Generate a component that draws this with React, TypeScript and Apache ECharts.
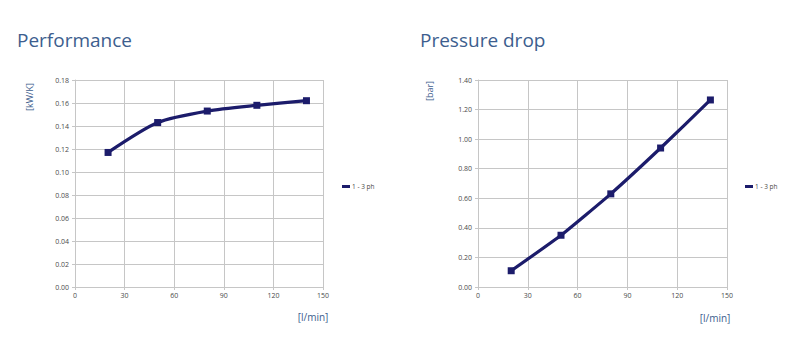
import React, { useEffect, useRef } from "react";
import * as echarts from "echarts";

const flowRates = [20, 50, 80, 110, 140];
const performanceValues = [0.117, 0.143, 0.153, 0.158, 0.162];
const pressureDropValues = [0.11, 0.35, 0.63, 0.94, 1.265];
const seriesName = "1 - 3 ph";
const titles = ["Performance", "Pressure drop"];
const yUnits = ["[kW/K]", "[bar]"];
const xUnit = "[l/min]";

const navy = "#1c1c6b";
const titleBlue = "#3d5e8e";
const gridGray = "#c6c6c6";
const labelGray = "#4a4a4a";
const font = "Open Sans";

export default function App() {
  const ref = useRef<HTMLDivElement>(null);
  useEffect(() => {
    if (!ref.current) return;
    const chart = echarts.init(ref.current, null, { renderer: "svg" });
    const xAxisCommon = {
      type: "value",
      min: 0,
      max: 150,
      interval: 30,
      axisLine: { show: true, lineStyle: { color: gridGray } },
      axisTick: { show: true, length: 3, lineStyle: { color: gridGray } },
      splitLine: { show: true, lineStyle: { color: gridGray, width: 1 } },
      axisLabel: { fontSize: 7, color: labelGray, fontFamily: font, margin: 5 },
    };
    const yAxisCommon = {
      type: "value",
      axisLine: { show: true, lineStyle: { color: gridGray } },
      axisTick: { show: true, length: 3, lineStyle: { color: gridGray } },
      splitLine: { show: true, lineStyle: { color: gridGray, width: 1 } },
    };
    const seriesCommon = {
      type: "line",
      name: seriesName,
      symbol: "rect",
      symbolSize: 7,
      lineStyle: { color: navy, width: 3.2 },
      itemStyle: { color: navy },
      smooth: 0.25,
    };
    chart.setOption({
      animation: false,
      backgroundColor: "#ffffff",
      textStyle: { fontFamily: font },
      title: [
        {
          text: titles[0],
          left: 12,
          top: 25,
          textStyle: { fontSize: 19, fontWeight: "normal", color: titleBlue, fontFamily: font },
        },
        {
          text: titles[1],
          left: 415,
          top: 25,
          textStyle: { fontSize: 19, fontWeight: "normal", color: titleBlue, fontFamily: font },
        },
      ],
      grid: [
        { left: 75, top: 80, width: 248, height: 207 },
        { left: 478, top: 80, width: 249, height: 207 },
      ],
      xAxis: [
        { ...xAxisCommon, gridIndex: 0 },
        { ...xAxisCommon, gridIndex: 1 },
      ],
      yAxis: [
        {
          ...yAxisCommon,
          gridIndex: 0,
          min: 0,
          max: 0.18,
          interval: 0.02,
          axisLabel: {
            fontSize: 7,
            color: labelGray,
            fontFamily: font,
            margin: 6,
            formatter: (v: number) => v.toFixed(2),
          },
        },
        {
          ...yAxisCommon,
          gridIndex: 1,
          min: 0,
          max: 1.4,
          interval: 0.2,
          axisLabel: {
            fontSize: 7,
            color: labelGray,
            fontFamily: font,
            margin: 6,
            formatter: (v: number) => v.toFixed(2),
          },
        },
      ],
      legend: [
        {
          data: [{ name: seriesName, icon: "rect" }],
          left: 342,
          top: 183,
          itemWidth: 8,
          itemHeight: 3,
          itemGap: 0,
          padding: 0,
          textStyle: { fontSize: 6.5, color: labelGray, padding: [0, 0, 0, -3] },
        },
        {
          data: [{ name: seriesName, icon: "rect" }],
          left: 745,
          top: 183,
          itemWidth: 8,
          itemHeight: 3,
          itemGap: 0,
          padding: 0,
          textStyle: { fontSize: 6.5, color: labelGray, padding: [0, 0, 0, -3] },
        },
      ],
      series: [
        {
          ...seriesCommon,
          xAxisIndex: 0,
          yAxisIndex: 0,
          data: flowRates.map((x, i) => [x, performanceValues[i]]),
        },
        {
          ...seriesCommon,
          xAxisIndex: 1,
          yAxisIndex: 1,
          smooth: 0.15,
          data: flowRates.map((x, i) => [x, pressureDropValues[i]]),
        },
      ],
      graphic: [
        {
          type: "text",
          x: 29,
          y: 97,
          rotation: Math.PI / 2,
          style: {
            text: yUnits[0],
            fontSize: 9,
            fill: titleBlue,
            fontFamily: font,
            align: "center",
            verticalAlign: "middle",
          },
        },
        {
          type: "text",
          x: 429,
          y: 91,
          rotation: Math.PI / 2,
          style: {
            text: yUnits[1],
            fontSize: 9,
            fill: titleBlue,
            fontFamily: font,
            align: "center",
            verticalAlign: "middle",
          },
        },
        {
          type: "text",
          x: 313,
          y: 317,
          style: {
            text: xUnit,
            fontSize: 10,
            fill: titleBlue,
            fontFamily: font,
            align: "center",
            verticalAlign: "middle",
          },
        },
        {
          type: "text",
          x: 715,
          y: 318,
          style: {
            text: xUnit,
            fontSize: 10,
            fill: titleBlue,
            fontFamily: font,
            align: "center",
            verticalAlign: "middle",
          },
        },
      ],
    });
    return () => chart.dispose();
  }, []);
  return <div ref={ref} style={{ width: 800, height: 360, margin: -8 }} />;
}
